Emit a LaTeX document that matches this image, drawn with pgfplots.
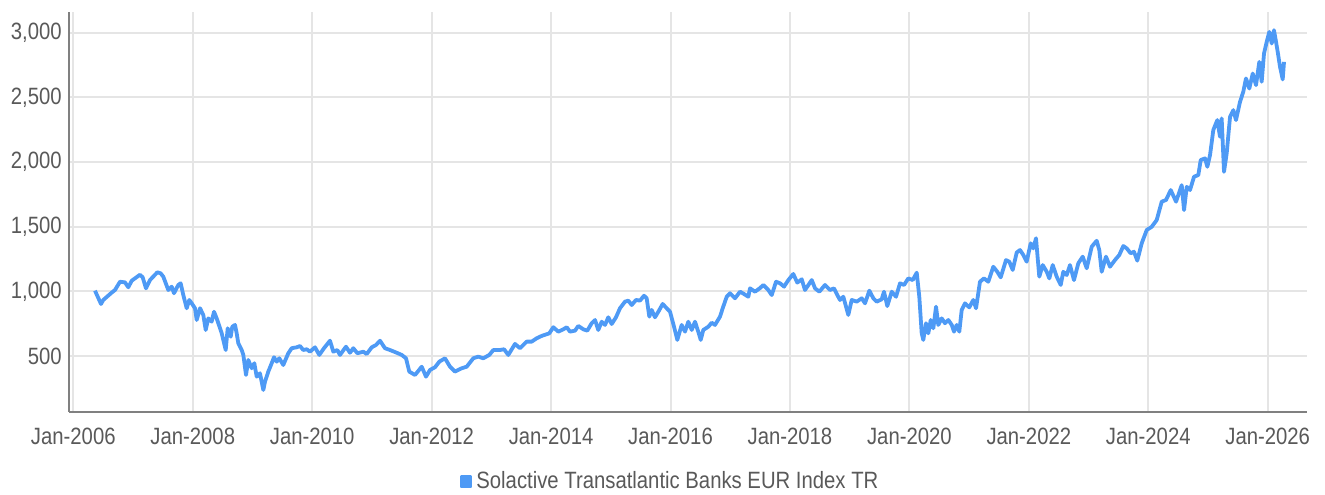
\documentclass[border=0pt]{standalone}
\usepackage{fontspec}
\setmainfont{Liberation Sans}[FakeStretch=0.86]
\usepackage{pgfplots}
\pgfplotsset{compat=1.18}
\definecolor{lineblue}{RGB}{78,154,245}
\definecolor{gridgray}{RGB}{229,229,229}
\definecolor{axisgray}{RGB}{128,128,128}
\definecolor{textgray}{RGB}{89,89,89}
\begin{document}
\begin{tikzpicture}
\path[use as bounding box] (0,0) rectangle (662.5pt,247pt);
\begin{axis}[
  at={(34.35pt,41.15pt)}, anchor=south west,
  width=619pt, height=200pt, scale only axis,
  xmin=2005.923, xmax=2026.653, ymin=69, ymax=3162,
  axis x line=bottom, axis y line=left,
  axis line style={-, draw=axisgray, line width=0.9pt},
  xtick={2006,2008,...,2026},
  xticklabels={Jan-2006,Jan-2008,Jan-2010,Jan-2012,Jan-2014,Jan-2016,Jan-2018,Jan-2020,Jan-2022,Jan-2024,Jan-2026},
  ytick={500,1000,...,3000},
  /pgf/number format/1000 sep={,},
  /pgf/number format/assume math mode=true,
  grid=major, major grid style={draw=gridgray, line width=1pt},
  major tick length=0pt, tick style={draw=none},
  ticklabel style={font=\fontsize{11.8}{14}\selectfont, text=textgray},
  xticklabel style={yshift=-4.5pt},
  legend style={at={(0.4865,-0.175)}, anchor=center, draw=none, fill=none,
    font=\fontsize{11.8}{14}\selectfont, text=textgray},
  legend image code/.code={\fill[lineblue] (0pt,-2.25pt) rectangle (4.5pt,2.25pt);},
]
\addplot[lineblue, line width=1.9pt, line join=round] table {
x y
2006.363 1005
2006.464 902
2006.502 933
2006.643 990
2006.698 1010
2006.782 1074
2006.866 1069
2006.921 1031
2006.978 1082
2007.117 1128
2007.162 1108
2007.217 1023
2007.284 1087
2007.407 1147
2007.463 1139
2007.507 1113
2007.591 1010
2007.648 1036
2007.686 985
2007.758 1049
2007.798 1062
2007.842 971
2007.899 869
2007.942 933
2007.983 907
2008.038 869
2008.066 778
2008.122 869
2008.177 817
2008.217 701
2008.261 791
2008.317 765
2008.356 842
2008.401 791
2008.485 675
2008.552 546
2008.585 714
2008.636 649
2008.662 726
2008.708 740
2008.736 675
2008.763 598
2008.820 546
2008.847 508
2008.892 353
2008.930 469
2008.987 405
2009.031 444
2009.071 340
2009.126 366
2009.182 237
2009.210 301
2009.265 379
2009.322 444
2009.361 490
2009.406 456
2009.449 482
2009.516 430
2009.600 521
2009.657 560
2009.741 567
2009.796 577
2009.851 546
2009.908 552
2009.963 533
2010.047 567
2010.119 508
2010.198 560
2010.298 618
2010.354 533
2010.421 546
2010.466 508
2010.566 572
2010.633 525
2010.689 560
2010.756 521
2010.856 533
2010.913 515
2010.997 567
2011.069 585
2011.136 618
2011.219 560
2011.303 546
2011.415 525
2011.499 508
2011.571 482
2011.626 379
2011.722 353
2011.834 417
2011.906 340
2011.973 392
2012.057 413
2012.129 456
2012.224 482
2012.308 417
2012.391 379
2012.504 405
2012.587 417
2012.698 482
2012.782 495
2012.865 482
2012.966 508
2013.033 546
2013.145 546
2013.212 552
2013.284 508
2013.396 593
2013.480 560
2013.592 611
2013.676 611
2013.760 637
2013.843 655
2013.970 675
2014.038 722
2014.121 688
2014.205 706
2014.262 722
2014.317 688
2014.401 696
2014.456 732
2014.540 706
2014.607 696
2014.680 753
2014.736 778
2014.791 701
2014.848 765
2014.903 740
2014.958 799
2015.015 747
2015.087 799
2015.154 869
2015.238 920
2015.293 928
2015.350 894
2015.422 933
2015.489 928
2015.556 966
2015.601 946
2015.645 804
2015.685 856
2015.740 799
2015.796 842
2015.869 902
2015.936 869
2015.992 842
2016.059 726
2016.114 624
2016.187 740
2016.243 688
2016.298 765
2016.355 701
2016.410 765
2016.465 688
2016.506 624
2016.549 701
2016.633 726
2016.690 757
2016.745 740
2016.829 804
2016.874 869
2016.941 958
2016.996 985
2017.080 946
2017.164 997
2017.231 979
2017.303 958
2017.331 1023
2017.415 997
2017.499 1025
2017.554 1049
2017.638 1010
2017.695 971
2017.767 1074
2017.834 1062
2017.901 1036
2017.973 1087
2018.056 1134
2018.123 1067
2018.197 1093
2018.252 1010
2018.365 1087
2018.420 1023
2018.492 997
2018.587 1049
2018.671 1010
2018.738 1023
2018.793 971
2018.838 933
2018.894 958
2018.977 817
2019.034 933
2019.118 920
2019.202 946
2019.257 907
2019.329 1005
2019.396 946
2019.453 920
2019.536 938
2019.575 997
2019.630 886
2019.704 997
2019.776 958
2019.843 1062
2019.910 1049
2019.982 1100
2020.056 1087
2020.123 1144
2020.166 958
2020.206 675
2020.233 624
2020.278 753
2020.317 675
2020.357 778
2020.401 714
2020.446 881
2020.484 740
2020.541 791
2020.596 753
2020.652 778
2020.709 740
2020.747 688
2020.792 740
2020.836 688
2020.876 856
2020.931 907
2021.003 876
2021.070 933
2021.116 869
2021.182 1074
2021.249 1100
2021.321 1074
2021.405 1190
2021.472 1151
2021.529 1108
2021.618 1242
2021.673 1229
2021.730 1165
2021.797 1300
2021.852 1319
2021.907 1281
2021.964 1229
2022.031 1371
2022.075 1332
2022.120 1410
2022.175 1113
2022.233 1203
2022.300 1151
2022.343 1100
2022.400 1203
2022.467 1113
2022.534 1049
2022.577 1151
2022.634 1126
2022.689 1203
2022.756 1087
2022.828 1216
2022.902 1268
2022.969 1178
2023.053 1345
2023.136 1391
2023.180 1319
2023.220 1151
2023.292 1268
2023.359 1190
2023.443 1242
2023.515 1281
2023.582 1350
2023.639 1332
2023.706 1294
2023.761 1306
2023.816 1237
2023.890 1371
2023.974 1474
2024.058 1499
2024.141 1551
2024.225 1693
2024.297 1706
2024.376 1783
2024.465 1693
2024.560 1821
2024.599 1628
2024.644 1808
2024.699 1783
2024.766 1886
2024.838 1899
2024.878 2015
2024.950 2028
2024.989 1963
2025.034 2053
2025.089 2247
2025.156 2324
2025.201 2195
2025.229 2337
2025.268 1924
2025.313 2066
2025.369 2349
2025.424 2401
2025.469 2324
2025.536 2465
2025.591 2543
2025.636 2646
2025.692 2568
2025.749 2684
2025.804 2594
2025.859 2774
2025.899 2620
2025.938 2839
2025.983 2929
2026.027 3006
2026.067 2916
2026.105 3019
2026.139 2929
2026.167 2852
2026.206 2736
2026.251 2638
2026.273 2774
};
\addlegendentry{Solactive Transatlantic Banks EUR Index TR}
\end{axis}
\end{tikzpicture}
\end{document}
